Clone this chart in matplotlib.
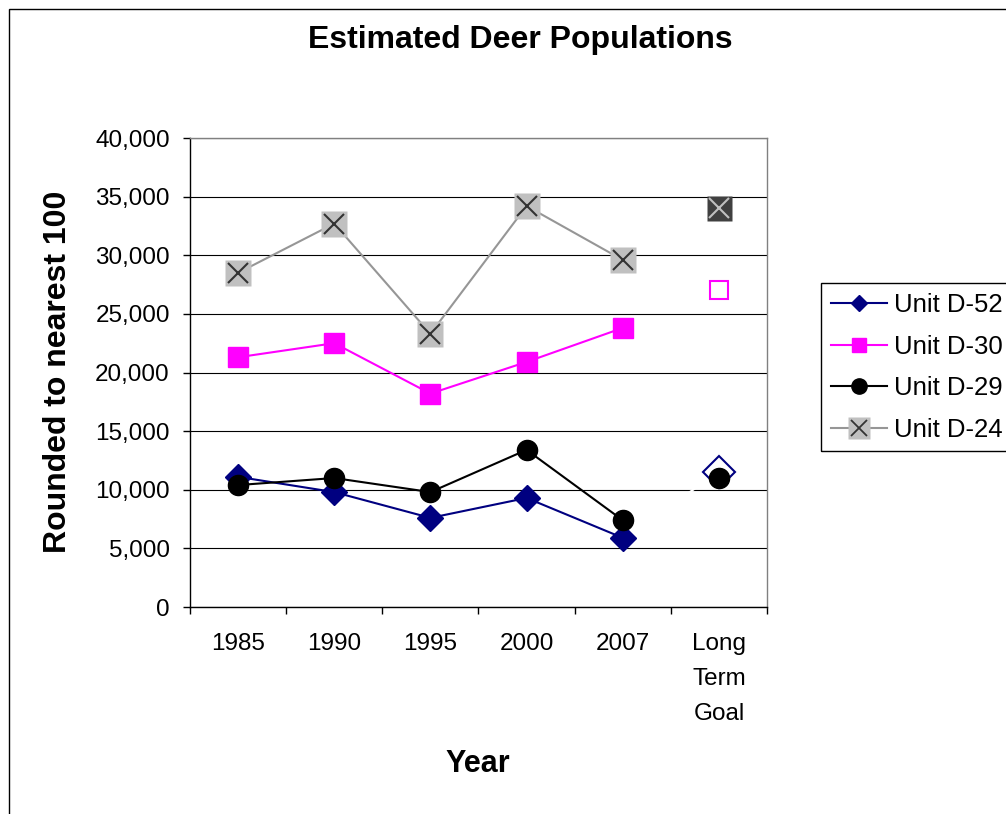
import matplotlib
matplotlib.use('Agg')
import matplotlib.pyplot as plt
from matplotlib.lines import Line2D
from matplotlib.patches import Rectangle
from matplotlib.ticker import FuncFormatter

plt.rcParams['font.family'] = ['Liberation Sans', 'DejaVu Sans']

# population estimates per unit
years = ['1985', '1990', '1995', '2000', '2007', 'Long\nTerm\nGoal']
d52 = [11100, 9800, 7600, 9300, 5900]
d30 = [21300, 22500, 18200, 20900, 23800]
d29 = [10400, 11000, 9800, 13400, 7400]
d24 = [28500, 32700, 23300, 34200, 29600]

# long term goals
goal_d52 = 11500
goal_d30 = 27000
goal_d29 = 11000
goal_d24 = 34000

navy = '#000080'
magenta = '#FF00FF'
gris = '#969696'
plata = '#C0C0C0'

fig = plt.figure(figsize=(10.06, 8.14), dpi=100)
ax = fig.add_axes([190/1006, 1 - 607/814, 577/1006, 469/814])

x = list(range(len(d52)))
xg = len(d52)

# Unit D-52
ax.plot(x, d52, color=navy, lw=1.5, marker='D', ms=13, mfc=navy, mec=navy, zorder=3)
ax.plot([x[-1], xg], [d52[-1], goal_d52], color='white', lw=1.5, zorder=2.5)
ax.plot(xg, goal_d52, marker='D', ms=16.5, mfc='white', mec=navy, mew=1.5, zorder=3)

# Unit D-30
ax.plot(x, d30, color=magenta, lw=1.5, marker='s', ms=14, mfc=magenta, mec=magenta, zorder=4)
ax.plot(xg, goal_d30, marker='s', ms=13, mfc='none', mec=magenta, mew=1.5, zorder=4)

# Unit D-29
ax.plot(x, d29, color='black', lw=1.5, marker='o', ms=14.5, mfc='black', mec='black', zorder=5)
ax.plot(xg, goal_d29, marker='o', ms=14.5, mfc='black', mec='black', zorder=5)

# Unit D-24
ax.plot(x, d24, color=gris, lw=1.5, marker='s', ms=18.5, mfc=plata, mec='none', zorder=6)
ax.plot(x, d24, ls='none', marker='x', ms=15, mec='#333333', mew=1.5, zorder=6)
ax.plot(xg, goal_d24, marker='s', ms=18, mfc='#404040', mec='none', zorder=6)
ax.plot(xg, goal_d24, marker='x', ms=15, mec=plata, mew=1.5, zorder=6)

# axes
ax.set_xlim(-0.5, len(years) - 0.5)
ax.set_ylim(0, 40000)
ax.set_yticks(range(0, 40001, 5000))
ax.yaxis.set_major_formatter(FuncFormatter(lambda v, p: '{:,}'.format(int(v))))
ax.tick_params(axis='y', labelsize=17.5, length=5, width=1, pad=9.5, direction='out')

ax.set_xticks([i - 0.5 for i in range(len(years) + 1)])
ax.set_xticklabels([])
ax.set_xticks(range(len(years)), minor=True)
ax.set_xticklabels(years, minor=True, fontsize=17.5, linespacing=1.78)
ax.tick_params(axis='x', which='major', length=5, width=1, direction='out')
ax.tick_params(axis='x', which='minor', length=0, pad=18.5)

ax.grid(axis='y', color='black', lw=0.8)
ax.set_axisbelow(True)
for s in ['left', 'bottom']:
    ax.spines[s].set_color('black')
    ax.spines[s].set_linewidth(1)
for s in ['top', 'right']:
    ax.spines[s].set_color('#808080')
    ax.spines[s].set_linewidth(1)

# titles
fig.text(520/1006, 1 - 48/814, 'Estimated Deer Populations', ha='center', va='baseline',
         fontsize=23, fontweight='bold')
fig.text(58/1006, 1 - 372/814, 'Rounded to nearest 100', ha='center', va='center',
         rotation=90, fontsize=23, fontweight='bold')
fig.text(478/1006, 1 - 772/814, 'Year', ha='center', va='baseline',
         fontsize=22, fontweight='bold')

# legend (frame drawn separately, it runs past the right edge)
h52 = Line2D([], [], color=navy, lw=1.5, marker='D', ms=8.5, mfc=navy, mec=navy)
h30 = Line2D([], [], color=magenta, lw=1.5, marker='s', ms=10.5, mfc=magenta, mec=magenta)
h29 = Line2D([], [], color='black', lw=1.5, marker='o', ms=11, mfc='black', mec='black')
h24a = Line2D([], [], color=gris, lw=1.5, marker='s', ms=16, mfc=plata, mec='none')
h24b = Line2D([], [], ls='none', marker='x', ms=12, mec='#333333', mew=1.3)
leg = fig.legend([h52, h30, h29, (h24a, h24b)],
                 ['Unit D-52', 'Unit D-30', 'Unit D-29', 'Unit D-24'],
                 loc='upper left', bbox_to_anchor=(821/1006, 1 - 283/814),
                 borderaxespad=0, fontsize=18.5, handlelength=2.15, handletextpad=0.3,
                 labelspacing=0.68, borderpad=0.4, frameon=False)
fig.patches.append(Rectangle((821/1006, 1 - 451/814), 0.3, 168/814, transform=fig.transFigure,
                             fill=False, ec='black', lw=1))

# outer chart border
fig.patches.append(Rectangle((9/1006, -0.1), 1.2, 1.1 - 9/814, transform=fig.transFigure,
                             fill=False, ec='black', lw=1))

fig.savefig('out.png', dpi=100)
